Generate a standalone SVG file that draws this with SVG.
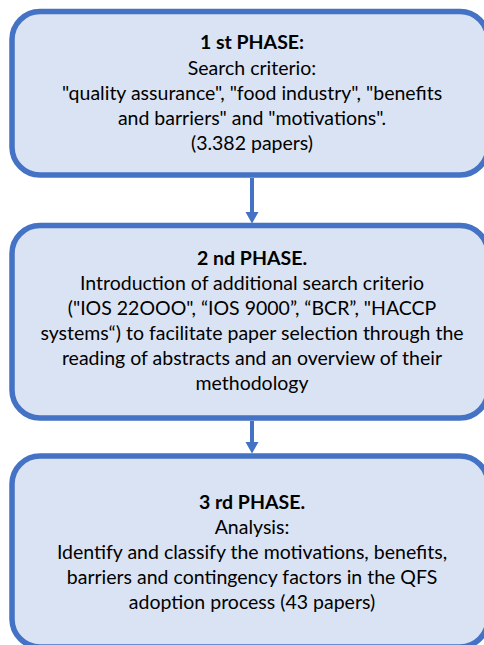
<svg xmlns="http://www.w3.org/2000/svg" width="484" height="645" viewBox="0 0 484 645">
<style>
.box{fill:#DAE3F3;stroke:#4472C4;stroke-width:5.5}
.t{font-family:Lato,"Liberation Sans",sans-serif;font-size:19.5px;fill:#000;text-anchor:middle}
.b{font-weight:bold}
.conn line{stroke:#4472C4;stroke-width:4}
.conn polygon{fill:#4472C4}
</style>
<rect width="484" height="645" fill="#fff"/>
<g id="phase1">
<rect class="box" x="12" y="11.5" width="476" height="163.5" rx="28"/>
<text class="t b" x="252" y="49">1 st PHASE:</text>
<text class="t" x="252" y="74.5">Search criterio:</text>
<text class="t" x="252" y="99.5">"quality assurance", "food industry", "benefits</text>
<text class="t" x="252" y="124.5">and barriers" and "motivations".</text>
<text class="t" x="252" y="150">(3.382 papers)</text>
</g>
<g id="phase2">
<rect class="box" x="12" y="225.5" width="476" height="192.5" rx="28"/>
<text class="t b" x="252" y="265">2 nd PHASE.</text>
<text class="t" x="252" y="290">Introduction of additional search criterio</text>
<text class="t" x="252" y="315">("IOS 22OOO", “IOS 9000”, “BCR”, "HACCP</text>
<text class="t" x="252" y="340">systems“) to facilitate paper selection through the</text>
<text class="t" x="252" y="365">reading of abstracts and an overview of their</text>
<text class="t" x="252" y="390">methodology</text>
</g>
<g id="phase3">
<rect class="box" x="12" y="456" width="476" height="191" rx="28"/>
<text class="t b" x="252" y="509">3 rd PHASE.</text>
<text class="t" x="252" y="534">Analysis:</text>
<text class="t" x="252" y="559">Identify and classify the motivations, benefits,</text>
<text class="t" x="252" y="584">barriers and contingency factors in the QFS</text>
<text class="t" x="252" y="609">adoption process (43 papers)</text>
</g>
<g id="connectors" class="conn">
<line x1="252" y1="178" x2="252" y2="214"/>
<polygon points="245.5,212 258.5,212 252,223.5"/>
<line x1="252" y1="421" x2="252" y2="444"/>
<polygon points="245.5,442 258.5,442 252,453.5"/>
</g>
</svg>
